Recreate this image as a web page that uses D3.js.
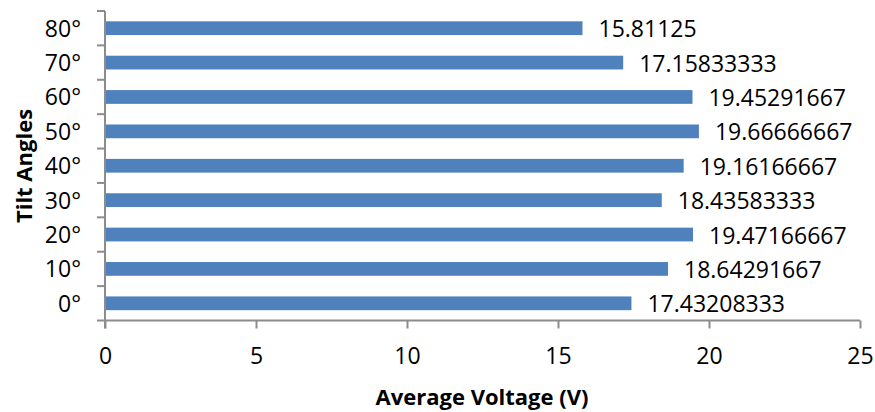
<!DOCTYPE html>
<html>
<head>
<meta charset="utf-8">
<script src="https://cdn.jsdelivr.net/npm/d3@7"></script>
<style>
  html, body { margin: 0; padding: 0; background: #fff; }
  svg text { font-family: "Open Sans", "Liberation Sans", sans-serif; fill: #000; }
</style>
</head>
<body>
<svg id="chart" width="875" height="412"></svg>
<script>
// Tilt angle categories (bottom to top) and their average voltage
const angles = ["0°", "10°", "20°", "30°", "40°", "50°", "60°", "70°", "80°"];
const voltages = [17.43208333, 18.64291667, 19.47166667, 18.43583333, 19.16166667,
                  19.66666667, 19.45291667, 17.15833333, 15.81125];
const labels = ["17.43208333", "18.64291667", "19.47166667", "18.43583333", "19.16166667",
                "19.66666667", "19.45291667", "17.15833333", "15.81125"];
const xTicks = [0, 5, 10, 15, 20, 25];

const svg = d3.select("#chart");
const plotLeft = 105, plotRight = 860, plotTop = 11, plotBottom = 320.5;
const axisColor = "#8c8c8c";
const barColor = "#4f81bd";

const x = d3.scaleLinear().domain([0, 25]).range([plotLeft, plotRight]);
const y = d3.scaleBand().domain(angles.slice().reverse()).range([plotTop, plotBottom])
  .paddingInner(0.6).paddingOuter(0.3);
const yBoundary = d3.scaleLinear().domain([0, angles.length]).range([plotBottom, plotTop]);

// Bars
svg.append("g").selectAll("rect").data(angles).join("rect")
  .attr("x", x(0))
  .attr("y", d => y(d))
  .attr("width", (d, i) => x(voltages[i]) - x(0))
  .attr("height", y.bandwidth())
  .attr("fill", barColor);

// Value labels
svg.append("g").selectAll("text").data(angles).join("text")
  .attr("x", (d, i) => x(voltages[i]) + 16)
  .attr("y", d => y(d) + y.bandwidth() / 2 + 9)
  .attr("font-size", 23)
  .text((d, i) => labels[i]);

// X axis
const xAxis = d3.axisBottom(x).tickValues(xTicks).tickSize(8).tickPadding(19).tickSizeOuter(0);
const gx = svg.append("g").attr("transform", `translate(0,${plotBottom})`).call(xAxis);
gx.select(".domain").attr("stroke", axisColor).attr("stroke-width", 2)
  .attr("d", `M${plotLeft - 8},0H${plotRight}`);
gx.selectAll(".tick line").attr("stroke", axisColor).attr("stroke-width", 2);
gx.selectAll(".tick text").attr("font-size", 23).attr("fill", "#000")
  .attr("font-family", "'Open Sans', sans-serif");

// Y axis line with boundary ticks between categories
const gy = svg.append("g");
gy.append("line")
  .attr("x1", plotLeft).attr("x2", plotLeft)
  .attr("y1", plotTop).attr("y2", plotBottom + 8)
  .attr("stroke", axisColor).attr("stroke-width", 2);
gy.selectAll("line.bt").data(d3.range(1, angles.length + 1)).join("line")
  .attr("class", "bt")
  .attr("x1", plotLeft - 8).attr("x2", plotLeft)
  .attr("y1", d => yBoundary(d)).attr("y2", d => yBoundary(d))
  .attr("stroke", axisColor).attr("stroke-width", 2);
gy.selectAll("text").data(angles).join("text")
  .attr("x", 81)
  .attr("y", d => y(d) + y.bandwidth() / 2 + 8.5)
  .attr("text-anchor", "end")
  .attr("font-size", 23)
  .text(d => d);

// Axis titles
svg.append("text")
  .attr("x", 482).attr("y", 405)
  .attr("text-anchor", "middle")
  .attr("font-size", 22).attr("font-weight", "bold")
  .text("Average Voltage (V)");

svg.append("text")
  .attr("transform", "translate(32,166) rotate(-90)")
  .attr("text-anchor", "middle")
  .attr("font-size", 22).attr("font-weight", "bold")
  .text("Tilt Angles");
</script>
</body>
</html>
